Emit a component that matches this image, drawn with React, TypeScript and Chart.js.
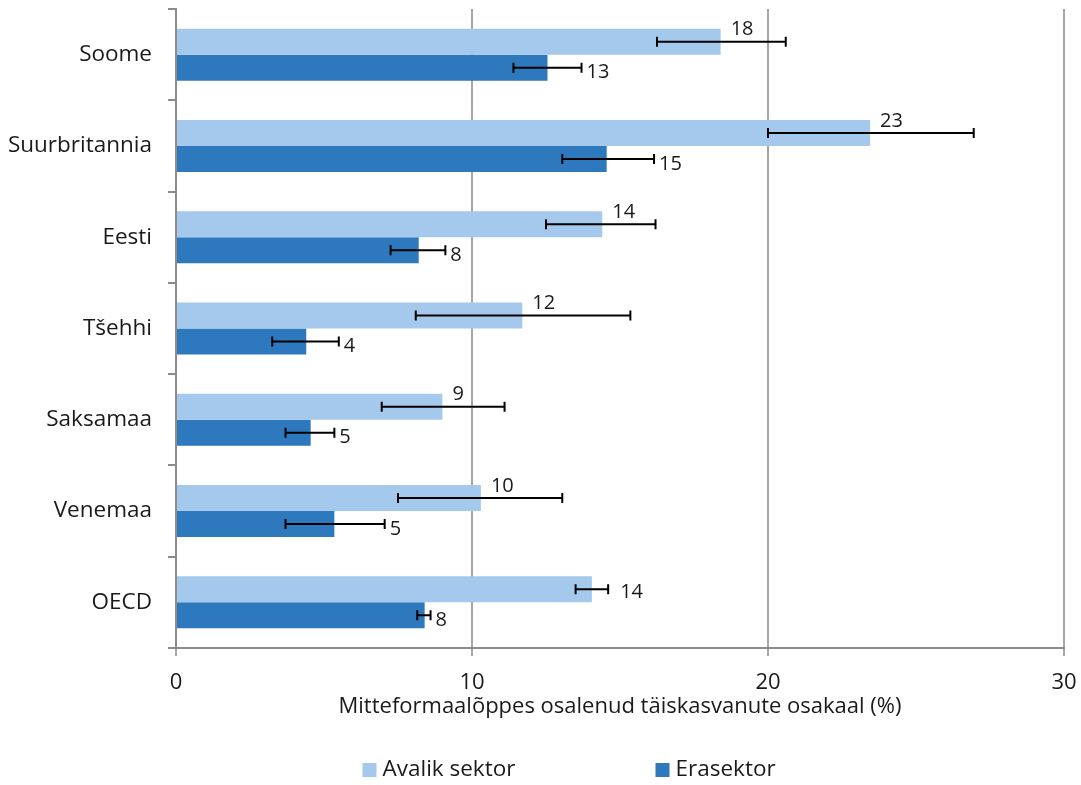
import React, { useEffect, useRef } from "react";
import { Chart, registerables } from "chart.js";

Chart.register(...registerables);

const categories = ["Soome", "Suurbritannia", "Eesti", "Tšehhi", "Saksamaa", "Venemaa", "OECD"];
const avalik = [18.4, 23.45, 14.4, 11.7, 9.0, 10.3, 14.05];
const avalikLow = [16.25, 20.0, 12.5, 8.1, 6.95, 7.5, 13.5];
const avalikHigh = [20.6, 26.95, 16.2, 15.35, 11.1, 13.05, 14.6];
const era = [12.55, 14.55, 8.2, 4.4, 4.55, 5.35, 8.4];
const eraLow = [11.4, 13.05, 7.25, 3.25, 3.7, 3.7, 8.15];
const eraHigh = [13.7, 16.15, 9.1, 5.5, 5.35, 7.05, 8.6];
const xTicks = [0, 10, 20, 30];
const seriesNames = ["Avalik sektor", "Erasektor"];

const LIGHT = "#a4c9ec";
const DARK = "#2e78bd";
const FONT = "'Open Sans', 'Noto Sans', sans-serif";
const TEXT = "#1a1a1a";

const errorPlugin = {
  id: "errorBarsAndLabels",
  afterDatasetsDraw(chart: any) {
    const ctx = chart.ctx;
    const xs = chart.scales.x;
    const lows = [avalikLow, eraLow];
    const highs = [avalikHigh, eraHigh];
    const vals = [avalik, era];
    ctx.save();
    for (let d = 0; d < 2; d++) {
      const meta = chart.getDatasetMeta(d);
      meta.data.forEach((el: any, j: number) => {
        const y = el.y;
        const x1 = xs.getPixelForValue(lows[d][j]);
        const x2 = xs.getPixelForValue(highs[d][j]);
        ctx.strokeStyle = "#000";
        ctx.lineWidth = 2;
        ctx.beginPath();
        ctx.moveTo(x1, y);
        ctx.lineTo(x2, y);
        ctx.moveTo(x1, y - 5);
        ctx.lineTo(x1, y + 5);
        ctx.moveTo(x2, y - 5);
        ctx.lineTo(x2, y + 5);
        ctx.stroke();
        const text = String(Math.round(vals[d][j]));
        ctx.fillStyle = TEXT;
        ctx.font = `20px ${FONT}`;
        ctx.textAlign = "left";
        ctx.textBaseline = "middle";
        const barEnd = el.x;
        let lx: number, ly: number;
        if (d === 0) {
          if (x2 - barEnd > 25) {
            lx = barEnd + 10;
            ly = y - 12;
          } else {
            lx = x2 + 12;
            ly = y + 3;
          }
        } else {
          lx = x2 + 5;
          ly = y + 5;
        }
        ctx.fillText(text, lx, ly);
      });
    }
    ctx.restore();
  },
};

const legendPlugin = {
  id: "customLegend",
  afterDraw(chart: any) {
    const ctx = chart.ctx;
    const cx = chart.width / 2;
    const y = 770;
    const items = [
      { x: cx - 178, color: LIGHT, text: seriesNames[0] },
      { x: cx + 115, color: DARK, text: seriesNames[1] },
    ];
    ctx.save();
    ctx.font = `22.5px ${FONT}`;
    ctx.textBaseline = "middle";
    ctx.textAlign = "left";
    items.forEach((it) => {
      ctx.fillStyle = it.color;
      ctx.fillRect(it.x, y - 7, 14, 14);
      ctx.fillStyle = TEXT;
      ctx.fillText(it.text, it.x + 20, y);
    });
    ctx.restore();
  },
};

export default function App() {
  const ref = useRef<HTMLCanvasElement | null>(null);
  useEffect(() => {
    if (!ref.current) return;
    const chart = new Chart(ref.current, {
      type: "bar",
      data: {
        labels: categories,
        datasets: [
          { label: seriesNames[0], data: avalik, backgroundColor: LIGHT, categoryPercentage: 0.57, barPercentage: 1 },
          { label: seriesNames[1], data: era, backgroundColor: DARK, categoryPercentage: 0.57, barPercentage: 1 },
        ],
      },
      options: {
        indexAxis: "y",
        animation: false,
        responsive: true,
        maintainAspectRatio: false,
        layout: { padding: { top: 9, right: 17, left: 0, bottom: 65 } },
        plugins: { legend: { display: false }, tooltip: { enabled: false } },
        scales: {
          x: {
            position: "bottom",
            min: 0,
            max: 30,
            afterBuildTicks: (s: any) => {
              s.ticks = xTicks.map((v) => ({ value: v }));
            },
            afterFit: (s: any) => {
              s.height = 72;
              s.paddingLeft = 0;
              s.paddingRight = 0;
              s.paddingTop = 0;
              s.paddingBottom = 0;
            },
            ticks: { font: { size: 22, family: FONT }, color: TEXT, padding: 14, maxRotation: 0 },
            grid: { color: "#a6a6a6", lineWidth: 2, tickLength: 8 },
            border: { color: "#8c8c8c", width: 2 },
            title: {
              display: true,
              text: "Mitteformaalõppes osalenud täiskasvanute osakaal (%)",
              font: { size: 22, family: FONT },
              color: TEXT,
              padding: { top: 0, bottom: 0 },
            },
          },
          y: {
            afterFit: (s: any) => {
              s.width = 176;
              s.paddingLeft = 0;
              s.paddingRight = 0;
              s.paddingTop = 0;
              s.paddingBottom = 0;
            },
            ticks: { font: { size: 22.5, family: FONT }, color: TEXT, padding: 16 },
            grid: { display: true, drawOnChartArea: false, offset: true, tickLength: 8, color: "#8c8c8c", lineWidth: 2 },
            border: { color: "#8c8c8c", width: 2 },
          },
        },
      },
      plugins: [errorPlugin, legendPlugin],
    } as any);
    return () => chart.destroy();
  }, []);
  return (
    <div style={{ position: "fixed", left: 0, top: 0, width: 1081, height: 785, background: "#fff" }}>
      <canvas ref={ref} />
    </div>
  );
}
